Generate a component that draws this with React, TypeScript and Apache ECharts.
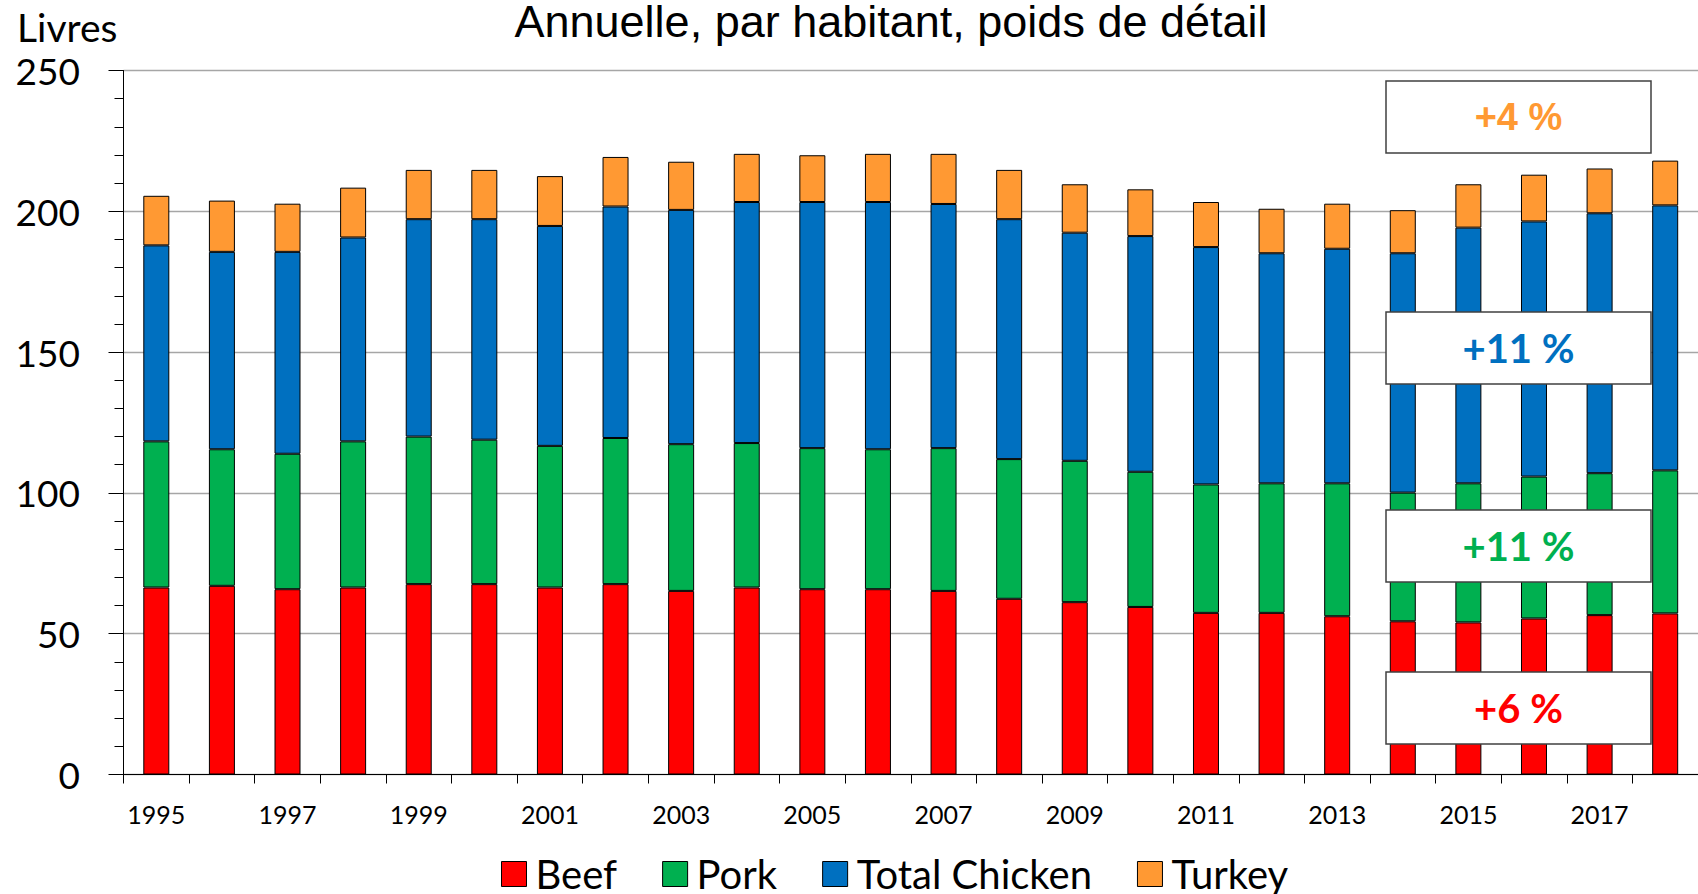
import React, { useEffect, useRef } from "react";
import * as echarts from "echarts";

const years = ["1995","1996","1997","1998","1999","2000","2001","2002","2003","2004","2005","2006","2007","2008","2009","2010","2011","2012","2013","2014","2015","2016","2017","2018"];
const beef = [66.4,67.0,65.8,66.4,67.6,67.6,66.4,67.6,65.2,66.4,65.8,65.8,65.2,62.4,61.2,59.5,57.4,57.4,56.2,54.4,54.0,55.4,56.6,57.2];
const pork = [51.9,48.5,48.1,51.9,52.4,51.3,50.3,51.9,52.1,51.3,50.1,49.7,50.7,49.6,50.2,48.0,45.6,46.0,47.2,45.7,49.4,50.4,50.4,50.8];
const chicken = [69.6,70.1,71.7,72.4,77.2,78.3,78.1,82.2,83.2,85.6,87.4,87.8,86.7,85.2,81.0,83.7,84.3,81.7,83.3,85.0,90.8,90.6,92.3,94.1];
const turkey = [17.6,18.2,17.1,17.7,17.5,17.5,17.7,17.6,17.1,17.1,16.6,17.1,17.8,17.5,17.2,16.6,16.0,15.8,16.0,15.3,15.4,16.6,15.9,15.9];

const seriesNames = ["Beef", "Pork", "Total Chicken", "Turkey"];
const seriesColors = ["#FF0000", "#00B050", "#0070C0", "#FF9933"];
const changeLabels = ["+4 %", "+11 %", "+11 %", "+6 %"];

const TITLE = "Annuelle, par habitant, poids de détail";
const Y_NAME = "Livres";

export default function App() {
  const ref = useRef<HTMLDivElement>(null);
  useEffect(() => {
    if (!ref.current) return;
    const chart = echarts.init(ref.current, null, { renderer: "svg" });
    const data = [beef, pork, chicken, turkey];
    const boxX = 1386, boxW = 265, boxH = 72;
    const boxTops = [81, 312, 510, 672];
    const boxColors = [seriesColors[3], seriesColors[2], seriesColors[1], seriesColors[0]];
    const boxFonts = ["Liberation Sans", "Lato", "Lato", "Lato"];
    const boxSizes = [38, 40, 40, 40];
    const graphics: any[] = [
      {
        type: "text", x: 891, y: 21, z: 100,
        style: { text: TITLE, font: "45px 'Liberation Sans'", fill: "#000", align: "center", verticalAlign: "middle" },
      },
      {
        type: "text", x: 17, y: 27, z: 100,
        style: { text: Y_NAME, font: "39px Lato", fill: "#000", align: "left", verticalAlign: "middle" },
      },
    ];
    boxTops.forEach((t, i) => {
      graphics.push({
        type: "rect", z: 100,
        shape: { x: boxX, y: t, width: boxW, height: boxH },
        style: { fill: "#fff", stroke: "#404040", lineWidth: 1.5 },
      });
      graphics.push({
        type: "text", z: 101, x: boxX + boxW / 2, y: t + boxH / 2,
        style: { text: changeLabels[i], font: `bold ${boxSizes[i]}px '${boxFonts[i]}'`, fill: boxColors[i], align: "center", verticalAlign: "middle" },
      });
    });

    chart.setOption({
      animation: false,
      backgroundColor: "#fff",
      grid: { left: 123.5, right: -16.7, top: 70.5, bottom: 119.5, containLabel: false },
      legend: {
        data: seriesNames,
        left: 496, top: 849,
        itemWidth: 25, itemHeight: 25, itemGap: 45,
        icon: "rect",
        itemStyle: { borderColor: "#000", borderWidth: 1 },
        textStyle: { fontFamily: "Lato", fontSize: 40, lineHeight: 40, color: "#000", padding: [0, 0, 0, 4] },
      },
      xAxis: {
        type: "category",
        data: years,
        boundaryGap: true,
        axisLine: { show: true, lineStyle: { color: "#000", width: 1 } },
        axisTick: { show: true, interval: 0, length: 9, lineStyle: { color: "#000", width: 1 } },
        axisLabel: { interval: 1, margin: 27, fontFamily: "Lato", fontSize: 25, color: "#000" },
        splitLine: { show: false },
      },
      yAxis: {
        type: "value",
        min: 0, max: 250, interval: 50,
        axisLine: { show: true, lineStyle: { color: "#000", width: 1 } },
        axisTick: { show: true, length: 15, lineStyle: { color: "#000", width: 1 } },
        minorTick: { show: true, splitNumber: 5, length: 9, lineStyle: { color: "#000", width: 1 } },
        axisLabel: { margin: 43.5, fontFamily: "Lato", fontSize: 37, color: "#000" },
        splitLine: { show: true, lineStyle: { color: "#A6A6A6", width: 1.3 } },
        minorSplitLine: { show: false },
      },
      series: seriesNames.map((name, i) => ({
        name,
        type: "bar",
        stack: "total",
        barWidth: 26,
        data: data[i],
        itemStyle: { color: seriesColors[i], borderColor: "#000", borderWidth: 1 },
        emphasis: { disabled: true },
      })),
      graphic: graphics,
    });
    return () => chart.dispose();
  }, []);
  return <div ref={ref} style={{ position: "fixed", left: 0, top: 0, width: 1698, height: 894 }} />;
}
